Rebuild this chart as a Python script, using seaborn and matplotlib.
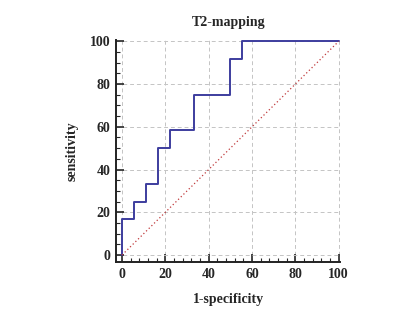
import numpy as np
import pandas as pd
import matplotlib
matplotlib.use("Agg")
from matplotlib import pyplot as plt
from matplotlib.ticker import MultipleLocator
import seaborn as sns

# ROC points (1-specificity, sensitivity), in %
fpr = [0, 0, 5.56, 11.1, 16.7, 22.2, 33.3, 50.0, 55.6, 100]
tpr = [0, 16.7, 25.0, 33.3, 50.0, 58.3, 75.0, 91.7, 100, 100]
ref_line = [0, 100]
ticks = [0, 20, 40, 60, 80, 100]

sns.set_style("white")
plt.rcParams['font.family'] = ['Liberation Serif', 'DejaVu Serif']

fig = plt.figure(figsize=(4.0, 3.18), dpi=100)
ax = fig.add_axes([0.29, 0.176, 0.561, 0.698])

roc = pd.DataFrame({"fpr": fpr, "tpr": tpr})
sns.lineplot(data=roc, x="fpr", y="tpr", sort=False, estimator=None,
             drawstyle="steps-post", color="#3d3d9e", linewidth=1.4, ax=ax)
sns.lineplot(x=ref_line, y=ref_line, color="#c0393b", linewidth=0.9,
             linestyle=(0, (1, 2)), ax=ax)

ax.set_xlim(-2.8, 100.8)
ax.set_ylim(-3.3, 100.6)
ax.set_xticks(ticks)
ax.set_yticks(ticks)
ax.xaxis.set_minor_locator(MultipleLocator(4))
ax.yaxis.set_minor_locator(MultipleLocator(5))
ax.tick_params(which="major", direction="in", length=6, width=1.2,
               bottom=True, left=True, labelsize=10, pad=4)
ax.tick_params(which="minor", direction="in", length=3, width=0.8,
               bottom=True, left=True)
for lab in ax.get_xticklabels() + ax.get_yticklabels():
    lab.set_fontweight("bold")

ax.grid(True, which="major", color="#c4c4c4", linewidth=0.7, linestyle=(0, (4, 3)))
for s in ["top", "right"]:
    ax.spines[s].set_visible(False)
for s in ["left", "bottom"]:
    ax.spines[s].set_color("#222222")
    ax.spines[s].set_linewidth(1.4)

ax.set_xlabel("1-specificity", fontsize=10, fontweight="bold", labelpad=9)
ax.set_ylabel("sensitivity", fontsize=10, fontweight="bold", labelpad=8)
ax.set_title("T2-mapping", fontsize=10, fontweight="bold", pad=10)

plt.savefig("out.png", dpi=100)
